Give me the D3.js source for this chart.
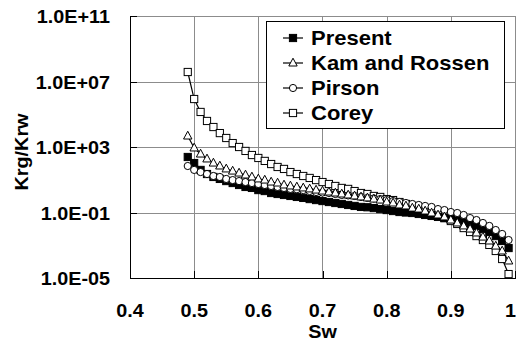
<!DOCTYPE html>
<meta charset="utf-8">
<style>
body { margin: 0; background: #fff; }
text { font-family: "Liberation Sans", Arial, sans-serif; font-weight: bold; fill: #000; }
.grid line { stroke: #8c8c8c; stroke-width: 1; shape-rendering: crispEdges; }
.axis path, .axis line { stroke: #000; shape-rendering: crispEdges; }
</style>
<body></body>
<script src="https://cdn.jsdelivr.net/npm/d3@7"></script>
<script>

// Sw values, one marker per 0.01
var sw = d3.range(49, 100).map(function(d) { return d / 100; });

// log10(Krg/Krw), 0.49 .. 0.99
var presentLog = [2.39, 2.02, 1.60, 1.35, 1.17, 1.05, 0.92, 0.80, 0.68, 0.56,
  0.50, 0.37, 0.31, 0.19, 0.13, 0.07, 0.01, -0.05, -0.11, -0.18,
  -0.24, -0.30, -0.36, -0.42, -0.48, -0.54, -0.60, -0.66, -0.68, -0.73,
  -0.79, -0.85, -0.91, -0.97, -1.00, -1.03, -1.09, -1.15, -1.21, -1.27,
  -1.34, -1.40, -1.46, -1.58, -1.70, -1.82, -2.01, -2.19, -2.44, -2.74, -3.17];

var kamLog = [3.67, 2.94, 2.57, 2.27, 2.02, 1.84, 1.66, 1.53, 1.41, 1.29,
  1.17, 1.05, 0.98, 0.86, 0.80, 0.68, 0.62, 0.56, 0.50, 0.44,
  0.37, 0.31, 0.25, 0.19, 0.13, 0.07, 0.01, -0.05, -0.11, -0.18,
  -0.24, -0.36, -0.42, -0.54, -0.60, -0.73, -0.79, -0.91, -1.03, -1.15,
  -1.27, -1.46, -1.64, -1.82, -2.01, -2.25, -2.50, -2.74, -3.05, -3.35, -3.96];

var pirsonLog = [1.84, 1.60, 1.47, 1.35, 1.23, 1.17, 1.05, 0.98, 0.92, 0.86,
  0.80, 0.74, 0.68, 0.62, 0.56, 0.50, 0.44, 0.42, 0.37, 0.31,
  0.25, 0.22, 0.19, 0.13, 0.07, 0.04, 0.01, -0.05, -0.11, -0.14,
  -0.18, -0.24, -0.30, -0.36, -0.42, -0.48, -0.54, -0.60, -0.66, -0.79,
  -0.85, -0.97, -1.03, -1.15, -1.34, -1.46, -1.64, -1.82, -2.07, -2.31, -2.68];

var coreyLog = [7.58, 5.93, 5.14, 4.59, 4.22, 3.85, 3.55, 3.24, 3.00, 2.76,
  2.51, 2.33, 2.15, 1.96, 1.78, 1.66, 1.47, 1.35, 1.23, 1.11,
  0.98, 0.86, 0.74, 0.62, 0.50, 0.44, 0.31, 0.19, 0.13, 0.01,
  -0.05, -0.18, -0.24, -0.36, -0.48, -0.60, -0.73, -0.85, -1.03, -1.15,
  -1.34, -1.52, -1.70, -1.95, -2.19, -2.44, -2.68, -2.98, -3.35, -3.84, -4.76];

var seriesNames = ["Present", "Kam and Rossen", "Pirson", "Corey"];
var seriesSymbols = ["filledSquare", "triangle", "circle", "square"];

var xTicks = [0.4, 0.5, 0.6, 0.7, 0.8, 0.9, 1.0];
var xTickLabels = ["0.4", "0.5", "0.6", "0.7", "0.8", "0.9", "1"];
var yTicks = [1e-5, 1e-1, 1e3, 1e7, 1e11];
var yTickLabels = ["1.0E-05", "1.0E-01", "1.0E+03", "1.0E+07", "1.0E+11"];

var margin = {top: 16, right: 1, bottom: 69, left: 130},
    width = 516 - margin.left - margin.right,
    height = 347 - margin.top - margin.bottom;

var stretch = 1.1; // glyphs in the picture are a little wide

var svg = d3.select("body").append("svg")
    .attr("width", 516)
    .attr("height", 347);

var g = svg.append("g")
    .attr("transform", "translate(" + margin.left + "," + margin.top + ")");

var x = d3.scaleLinear().domain([0.4, 1.0]).range([0, width]);
var y = d3.scaleLog().domain([1e-5, 1e11]).range([height, 0]);

// grid
g.append("g").attr("class", "grid")
  .selectAll("line").data(xTicks.slice(1)).enter().append("line")
    .attr("x1", function(d) { return Math.round(x(d)) + 0.5; })
    .attr("x2", function(d) { return Math.round(x(d)) + 0.5; })
    .attr("y1", 0).attr("y2", height);
g.append("g").attr("class", "grid")
  .selectAll("line").data(yTicks.slice(1)).enter().append("line")
    .attr("x1", 0).attr("x2", width)
    .attr("y1", function(d) { return Math.round(y(d)) + 0.5; })
    .attr("y2", function(d) { return Math.round(y(d)) + 0.5; });

// axes, ticks pointing inside
g.append("g").attr("class", "axis")
    .attr("transform", "translate(0," + height + ")")
    .call(d3.axisBottom(x).tickValues(xTicks).tickSizeInner(-7).tickSizeOuter(0).tickFormat(""));
g.append("g").attr("class", "axis")
    .call(d3.axisLeft(y).tickValues(yTicks).tickSizeInner(-7).tickSizeOuter(0).tickFormat(""));

// tick labels (the last one sits on the right edge of the picture)
g.selectAll(".xlab").data(xTicks).enter().append("text")
    .attr("class", "xlab")
    .attr("text-anchor", function(d, i) { return i == xTicks.length - 1 ? "end" : "middle"; })
    .style("font-size", "18px")
    .attr("transform", function(d, i) {
      var px = i == xTicks.length - 1 ? x(d) + 1 : x(d);
      return "translate(" + px + "," + (height + 39) + ") scale(" + stretch + ",1)";
    })
    .text(function(d, i) { return xTickLabels[i]; });

g.selectAll(".ylab").data(yTicks).enter().append("text")
    .attr("class", "ylab")
    .attr("text-anchor", "end")
    .style("font-size", "18px")
    .attr("transform", function(d) { return "translate(-20," + (y(d) + 7) + ") scale(" + stretch + ",1)"; })
    .text(function(d, i) { return yTickLabels[i]; });

// axis titles
svg.append("text")
    .attr("text-anchor", "middle")
    .style("font-size", "18px")
    .attr("transform", "translate(" + (margin.left + width / 2) + ",338) scale(" + stretch + ",1)")
    .text("Sw");

svg.append("text")
    .attr("text-anchor", "middle")
    .style("font-size", "18px")
    .attr("transform", "translate(28," + (margin.top + 136) + ") rotate(-90) scale(" + stretch + ",1)")
    .text("Krg/Krw");

// symbols
function drawSymbol(sel, type) {
  if (type == "circle") {
    sel.append("circle").attr("r", 3.6).attr("fill", "#fff").attr("stroke", "#000");
  } else if (type == "triangle") {
    sel.append("path").attr("d", "M0,-4.8L4.2,3L-4.2,3Z").attr("fill", "#fff").attr("stroke", "#000");
  } else {
    sel.append("rect").attr("x", -3.6).attr("y", -3.6).attr("width", 7.2).attr("height", 7.2)
      .attr("fill", type == "filledSquare" ? "#000" : "#fff").attr("stroke", "#000");
  }
}

var allSeries = [presentLog, kamLog, pirsonLog, coreyLog];

var line = d3.line()
    .x(function(d) { return x(d[0]); })
    .y(function(d) { return y(d[1]); });

// draw Corey first so the others sit on top, like the picture
[3, 0, 2, 1].forEach(function(k) {
  var pts = sw.map(function(s, i) { return [s, Math.pow(10, allSeries[k][i])]; });
  var sg = g.append("g");
  sg.append("path")
      .datum(pts)
      .attr("fill", "none")
      .attr("stroke", "#000")
      .attr("stroke-width", 1.2)
      .attr("d", line);
  sg.selectAll("g.pt").data(pts).enter().append("g")
      .attr("class", "pt")
      .attr("transform", function(d) { return "translate(" + x(d[0]) + "," + y(d[1]) + ")"; })
      .call(drawSymbol, seriesSymbols[k]);
});

// legend
var leg = svg.append("g").attr("transform", "translate(266,21)");
leg.append("rect")
    .attr("x", 0.5).attr("y", 0.5)
    .attr("width", 238).attr("height", 107)
    .attr("fill", "#fff").attr("stroke", "#000");

var items = leg.selectAll("g.item").data(seriesNames).enter().append("g")
    .attr("class", "item")
    .attr("transform", function(d, i) { return "translate(0," + (17 + i * 25) + ")"; });
items.append("line")
    .attr("x1", 17).attr("x2", 37)
    .attr("stroke", "#000").attr("stroke-width", 1.2);
items.append("g")
    .attr("transform", "translate(27,0)")
    .each(function(d, i) { drawSymbol(d3.select(this), seriesSymbols[i]); });
items.append("text")
    .style("font-size", "20px")
    .attr("transform", "translate(45,7) scale(" + stretch + ",1)")
    .text(function(d) { return d; });

</script>
